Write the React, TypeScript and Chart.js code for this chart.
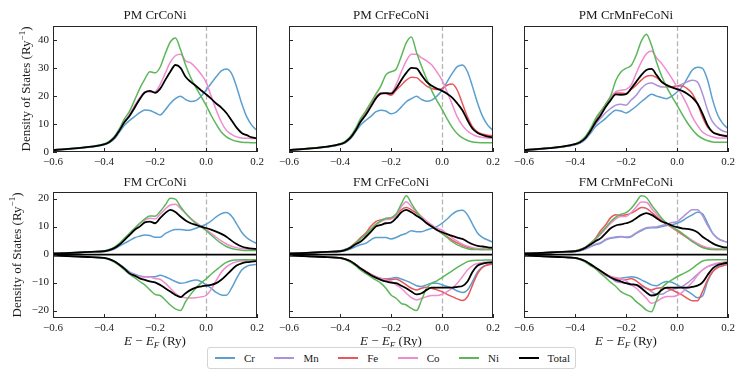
import React, { useEffect, useRef } from "react";
import { Chart, registerables } from "chart.js";
Chart.register(...registerables);

const W = 747;
const H = 374;
const FONT = '"Liberation Serif", "Times New Roman", serif';
const INK = "#1a1a1a";

// ---------------- data ----------------
const energies = [-0.6, -0.55, -0.5, -0.45, -0.4, -0.38, -0.36, -0.34, -0.32, -0.3, -0.28, -0.26, -0.24, -0.22, -0.2, -0.18, -0.16, -0.14, -0.12, -0.1, -0.08, -0.06, -0.04, -0.02, 0, 0.02, 0.04, 0.06, 0.08, 0.1, 0.12, 0.14, 0.16, 0.18, 0.2];
const xTicks = [-0.6, -0.4, -0.2, 0, 0.2];
const yTicksPM = [0, 10, 20, 30, 40];
const yTicksFM = [-20, -10, 0, 10, 20];
const yRangePM = [0, 44.9];
const yRangeFM = [-22.64, 22.36];

const elements = ["Cr", "Mn", "Fe", "Co", "Ni", "Total"];
const colors = ["#5b9fd0", "#ad92da", "#e8575a", "#ef8bcf", "#5db75a", "#000000"];

// PM CrCoNi
const pm1Cr = [0.6, 0.9, 1.3, 1.8, 2.6, 3.3, 4.6, 7.0, 9.5, 11.2, 12.6, 14.0, 15.0, 14.8, 14.0, 13.2, 15.0, 17.3, 19.0, 19.9, 18.7, 18.0, 18.3, 19.8, 22.0, 24.4, 26.8, 28.9, 29.6, 28.0, 23.2, 17.3, 12.5, 9.5, 7.7];
const pm1Co = [0.7, 1.0, 1.4, 1.9, 2.8, 3.5, 5.0, 7.6, 10.8, 13.3, 16.5, 19.3, 21.3, 21.4, 21.5, 24.0, 28.0, 32.0, 34.3, 34.8, 32.5, 31.8, 30.0, 27.8, 25.0, 20.0, 15.0, 10.7, 7.7, 6.3, 5.4, 5.0, 4.9, 4.8, 4.8];
const pm1Ni = [0.8, 1.1, 1.5, 2.0, 2.9, 3.8, 5.4, 8.2, 11.8, 14.5, 18.5, 22.6, 26.0, 28.6, 28.2, 30.2, 35.0, 39.2, 40.6, 36.5, 31.0, 26.5, 23.0, 19.9, 16.7, 13.1, 9.9, 7.1, 5.4, 4.4, 3.8, 3.5, 3.4, 3.3, 3.3];
const pm1Tot = [0.7, 1.0, 1.4, 1.9, 2.7, 3.5, 5.0, 7.6, 10.6, 12.8, 15.8, 18.8, 21.2, 21.8, 21.1, 22.5, 25.6, 28.6, 31.0, 30.0, 26.8, 25.0, 23.6, 22.0, 20.6, 19.0, 17.3, 15.8, 13.9, 11.3, 8.7, 6.8, 6.0, 5.2, 4.9];

// PM CrFeCoNi
const pm2Cr = [0.6, 0.9, 1.3, 1.8, 2.6, 3.3, 4.6, 7.0, 9.5, 11.2, 12.6, 14.3, 14.9, 14.6, 13.6, 14.2, 16.0, 17.9, 19.0, 19.9, 18.7, 18.1, 18.5, 19.9, 22.0, 25.0, 28.0, 30.4, 31.0, 28.6, 23.2, 17.3, 12.5, 9.5, 7.7];
const pm2Fe = [0.7, 1.0, 1.4, 1.9, 2.8, 3.5, 5.0, 7.6, 11.0, 14.0, 17.0, 19.5, 21.0, 20.8, 20.2, 22.0, 23.8, 25.6, 26.6, 26.5, 25.0, 23.5, 22.6, 22.3, 22.6, 23.8, 24.2, 22.0, 17.3, 12.5, 8.9, 7.1, 6.3, 6.0, 5.8];
const pm2Co = [0.7, 1.0, 1.4, 1.9, 2.8, 3.5, 5.0, 7.6, 10.8, 13.5, 16.5, 19.0, 21.0, 21.0, 21.0, 24.0, 28.5, 32.5, 34.8, 34.8, 33.5, 32.5, 31.0, 28.5, 25.6, 21.4, 17.0, 12.5, 9.5, 7.5, 6.3, 5.5, 5.2, 5.0, 4.9];
const pm2Ni = [0.8, 1.1, 1.5, 2.0, 2.9, 3.8, 5.4, 8.2, 11.8, 14.5, 17.5, 20.5, 23.5, 27.5, 28.6, 29.5, 34.0, 39.0, 41.0, 35.5, 30.5, 26.0, 21.8, 18.3, 15.2, 11.8, 8.8, 6.5, 5.0, 4.1, 3.6, 3.4, 3.3, 3.3, 3.3];
const pm2Tot = [0.7, 1.0, 1.4, 1.9, 2.8, 3.5, 5.0, 7.5, 10.7, 13.1, 16.0, 19.0, 20.8, 21.0, 20.8, 22.6, 25.6, 28.2, 30.0, 29.8, 27.4, 25.0, 23.6, 22.6, 21.8, 20.8, 19.4, 17.3, 14.9, 11.3, 8.3, 6.8, 6.0, 5.5, 5.2];

// PM CrMnFeCoNi
const pm3Cr = [0.6, 0.9, 1.3, 1.8, 2.6, 3.2, 4.4, 6.6, 9.0, 10.5, 12.0, 13.7, 14.9, 14.6, 13.9, 14.9, 16.3, 17.9, 19.4, 20.6, 19.9, 19.4, 19.0, 19.9, 21.4, 23.2, 26.2, 29.2, 30.2, 29.8, 25.6, 18.5, 13.1, 10.1, 8.3];
const pm3Mn = [0.6, 0.9, 1.3, 1.8, 2.7, 3.3, 4.7, 7.0, 9.8, 12.0, 14.0, 15.5, 16.7, 17.0, 16.7, 18.5, 20.2, 22.6, 24.2, 24.6, 23.8, 23.2, 23.2, 23.2, 23.5, 24.2, 25.0, 25.6, 25.0, 20.8, 14.9, 10.7, 8.7, 7.5, 7.0];
const pm3Fe = [0.7, 1.0, 1.4, 1.9, 2.8, 3.5, 5.0, 7.6, 11.0, 14.0, 17.0, 19.5, 21.0, 21.0, 20.8, 22.3, 23.8, 25.6, 27.0, 27.3, 26.5, 25.0, 24.0, 23.2, 23.5, 23.5, 22.6, 20.8, 17.3, 12.5, 8.9, 7.1, 6.3, 6.0, 5.8];
const pm3Co = [0.7, 1.0, 1.4, 1.9, 2.8, 3.5, 5.0, 7.6, 10.8, 13.5, 16.5, 19.5, 21.5, 22.0, 22.3, 23.8, 28.0, 32.0, 35.0, 36.0, 33.5, 31.5, 29.0, 26.2, 23.2, 20.2, 16.7, 12.5, 9.5, 7.1, 6.0, 5.4, 5.0, 5.0, 5.0];
const pm3Ni = [0.8, 1.1, 1.5, 2.0, 2.9, 3.8, 5.4, 8.2, 11.8, 14.5, 17.0, 20.0, 25.5, 28.5, 29.8, 30.8, 34.5, 39.5, 42.0, 38.0, 32.0, 27.0, 23.0, 19.7, 16.7, 13.5, 10.5, 8.0, 6.0, 4.8, 4.0, 3.6, 3.5, 3.5, 3.5];
const pm3Tot = [0.7, 1.0, 1.4, 1.9, 2.8, 3.5, 4.9, 7.4, 10.5, 13.0, 16.0, 18.5, 20.5, 20.4, 20.6, 22.6, 25.0, 27.4, 29.2, 29.6, 27.4, 25.0, 23.8, 23.0, 22.4, 21.8, 20.8, 19.4, 17.3, 13.7, 9.5, 7.1, 6.3, 5.8, 5.6];

// FM CrCoNi (spin up / spin down)
const fm1CrUp = [0.35, 0.5, 0.7, 0.9, 1.1, 1.4, 2.0, 3.0, 4.0, 5.0, 6.0, 6.6, 7.0, 6.8, 6.2, 6.2, 7.5, 8.4, 9.0, 9.0, 8.7, 8.8, 9.4, 10.1, 10.8, 12.0, 13.5, 14.6, 15.0, 13.8, 11.0, 8.0, 6.0, 4.8, 4.0];
const fm1CoUp = [0.4, 0.55, 0.75, 1.0, 1.3, 1.7, 2.5, 3.8, 5.5, 7.2, 9.0, 11.0, 12.3, 13.0, 12.7, 14.4, 16.3, 17.7, 18.0, 16.5, 14.8, 13.0, 11.5, 10.2, 9.0, 7.6, 6.2, 4.9, 3.8, 3.0, 2.5, 2.2, 2.0, 2.0, 2.0];
const fm1NiUp = [0.4, 0.55, 0.75, 1.0, 1.3, 1.8, 2.6, 4.0, 5.8, 7.6, 9.4, 11.2, 12.8, 13.8, 13.7, 15.4, 17.7, 20.1, 19.8, 17.1, 14.8, 12.8, 11.2, 10.0, 8.6, 7.0, 5.4, 4.0, 2.9, 2.2, 1.8, 1.6, 1.5, 1.5, 1.5];
const fm1TotUp = [0.4, 0.55, 0.75, 1.0, 1.2, 1.6, 2.3, 3.5, 5.2, 7.0, 8.8, 10.0, 11.5, 11.8, 11.2, 13.0, 14.8, 16.0, 15.2, 13.6, 12.2, 11.2, 10.6, 10.0, 9.5, 8.9, 8.2, 7.4, 6.4, 5.0, 3.8, 2.9, 2.4, 2.1, 2.0];
const fm1CrDn = [-0.35, -0.5, -0.7, -0.9, -1.2, -1.6, -2.3, -3.4, -4.8, -6.2, -7.0, -7.6, -7.9, -7.9, -7.9, -7.4, -7.9, -8.7, -9.6, -10.2, -10.0, -9.4, -9.1, -9.6, -10.8, -12.0, -13.5, -14.4, -14.5, -12.0, -8.5, -5.5, -4.2, -3.7, -3.5];
const fm1CoDn = [-0.35, -0.5, -0.7, -0.9, -1.2, -1.6, -2.4, -3.6, -5.0, -6.5, -7.3, -7.9, -8.0, -8.0, -8.5, -8.8, -10.2, -12.0, -13.8, -15.0, -15.4, -15.5, -15.4, -15.1, -14.6, -12.5, -9.3, -6.3, -4.4, -3.2, -2.6, -2.3, -2.2, -2.1, -2.0];
const fm1NiDn = [-0.35, -0.5, -0.7, -0.9, -1.3, -1.8, -2.7, -3.9, -5.5, -7.0, -8.2, -9.6, -10.8, -12.6, -14.2, -14.6, -16.2, -18.0, -19.4, -20.0, -16.8, -14.2, -12.0, -10.2, -8.7, -7.0, -5.5, -4.0, -2.8, -2.1, -1.9, -1.8, -1.8, -1.8, -1.8];
const fm1TotDn = [-0.35, -0.5, -0.7, -0.9, -1.2, -1.6, -2.4, -3.6, -5.0, -6.7, -7.5, -8.5, -9.0, -9.6, -9.9, -10.8, -12.0, -13.2, -14.4, -15.2, -13.8, -12.6, -11.8, -11.4, -11.1, -10.8, -10.2, -9.0, -7.3, -5.5, -3.9, -3.1, -2.7, -2.5, -2.3];

// FM CrFeCoNi
const fm2CrUp = [0.35, 0.5, 0.7, 0.9, 1.1, 1.4, 2.0, 2.8, 3.5, 4.0, 5.2, 6.1, 6.1, 6.1, 5.6, 6.1, 7.0, 7.6, 8.5, 8.2, 8.2, 8.8, 9.4, 10.0, 11.2, 12.7, 14.4, 15.6, 15.8, 14.2, 10.8, 7.6, 6.1, 5.2, 4.4];
const fm2FeUp = [0.4, 0.55, 0.75, 1.0, 1.3, 1.8, 2.7, 4.2, 6.0, 7.6, 10.0, 11.8, 12.4, 12.7, 13.0, 14.2, 16.0, 16.8, 16.0, 14.8, 13.0, 11.4, 10.0, 8.8, 7.6, 6.4, 5.2, 4.2, 3.3, 2.6, 2.1, 1.9, 1.8, 1.8, 1.8];
const fm2CoUp = [0.4, 0.55, 0.75, 1.0, 1.3, 1.7, 2.5, 3.8, 5.5, 7.0, 8.8, 10.5, 11.8, 12.5, 12.7, 14.0, 17.1, 18.9, 17.1, 15.4, 13.6, 12.0, 10.6, 9.4, 8.8, 7.4, 6.0, 4.8, 3.7, 3.0, 2.5, 2.2, 2.1, 2.0, 2.0];
const fm2NiUp = [0.4, 0.55, 0.75, 1.0, 1.3, 1.8, 2.6, 4.0, 5.6, 7.2, 9.0, 10.8, 12.0, 13.0, 13.2, 14.5, 18.0, 21.0, 18.3, 15.4, 13.0, 11.2, 10.0, 8.8, 7.6, 6.1, 4.6, 3.5, 2.7, 2.1, 1.8, 1.8, 1.8, 1.8, 1.8];
const fm2TotUp = [0.4, 0.55, 0.75, 1.0, 1.2, 1.6, 2.4, 3.6, 4.6, 6.2, 8.0, 10.0, 10.6, 11.2, 11.4, 13.0, 15.1, 16.0, 15.1, 13.9, 12.7, 11.2, 10.0, 8.8, 8.0, 7.3, 6.7, 6.1, 5.6, 4.6, 3.7, 3.1, 2.9, 2.6, 2.4];
const fm2CrDn = [-0.35, -0.5, -0.7, -0.9, -1.2, -1.6, -2.3, -3.4, -4.8, -6.0, -7.0, -7.9, -8.5, -8.7, -8.5, -8.2, -8.7, -9.4, -10.2, -11.1, -11.4, -10.8, -10.2, -10.2, -10.8, -11.4, -12.0, -13.0, -13.5, -12.6, -9.6, -6.1, -4.3, -3.5, -3.1];
const fm2FeDn = [-0.35, -0.5, -0.7, -0.9, -1.2, -1.6, -2.3, -3.4, -4.8, -5.8, -7.0, -7.9, -8.5, -8.7, -9.0, -8.7, -9.6, -10.8, -12.0, -12.6, -12.0, -11.7, -12.0, -12.6, -13.2, -14.2, -15.0, -15.8, -16.4, -15.0, -10.8, -6.7, -4.5, -3.7, -3.3];
const fm2CoDn = [-0.35, -0.5, -0.7, -0.9, -1.2, -1.6, -2.4, -3.6, -5.0, -6.3, -7.3, -8.0, -8.5, -9.0, -9.6, -10.8, -12.0, -13.8, -15.4, -16.2, -15.6, -15.0, -14.6, -14.6, -14.2, -13.2, -12.0, -10.2, -7.9, -5.5, -3.9, -3.2, -2.8, -2.6, -2.5];
const fm2NiDn = [-0.35, -0.5, -0.7, -0.9, -1.3, -1.8, -2.7, -3.9, -5.5, -6.7, -7.9, -9.0, -10.2, -12.0, -14.4, -15.6, -17.4, -18.0, -19.2, -20.0, -16.2, -12.0, -10.2, -9.4, -8.2, -7.0, -5.8, -4.6, -3.5, -2.5, -2.1, -2.0, -2.0, -1.9, -1.9];
const fm2TotDn = [-0.35, -0.5, -0.7, -0.9, -1.2, -1.6, -2.3, -3.5, -4.9, -6.1, -7.3, -8.2, -9.0, -9.6, -10.0, -10.2, -11.1, -12.0, -13.2, -14.2, -13.8, -12.6, -11.8, -11.8, -11.8, -11.8, -11.8, -11.5, -11.2, -9.6, -6.1, -3.9, -3.2, -2.9, -2.7];

// FM CrMnFeCoNi
const fm3CrUp = [0.35, 0.5, 0.7, 0.9, 1.1, 1.4, 2.0, 2.8, 3.5, 4.0, 5.2, 5.8, 6.1, 6.4, 6.1, 6.4, 7.6, 8.5, 9.4, 9.6, 9.6, 10.0, 10.4, 10.6, 11.2, 12.0, 13.2, 14.2, 15.1, 14.6, 11.2, 7.6, 5.8, 4.9, 4.4];
const fm3MnUp = [0.35, 0.5, 0.7, 0.9, 1.1, 1.4, 2.0, 2.9, 3.7, 4.3, 5.4, 6.0, 6.3, 6.5, 6.3, 6.6, 7.8, 8.8, 9.6, 9.8, 9.9, 10.4, 10.8, 11.5, 11.8, 13.2, 14.8, 16.0, 16.0, 13.9, 10.4, 7.6, 5.8, 4.9, 4.4];
const fm3FeUp = [0.4, 0.55, 0.75, 1.0, 1.3, 1.8, 2.6, 4.0, 5.8, 8.5, 10.6, 13.2, 14.2, 13.9, 14.2, 14.8, 15.8, 16.8, 16.5, 15.1, 13.6, 12.0, 10.8, 9.6, 8.5, 7.2, 6.0, 4.8, 3.7, 2.8, 2.2, 1.9, 1.8, 1.8, 1.8];
const fm3CoUp = [0.4, 0.55, 0.75, 1.0, 1.3, 1.7, 2.5, 3.8, 5.5, 7.2, 9.2, 11.2, 12.8, 13.6, 13.6, 15.0, 17.0, 18.8, 18.7, 16.5, 14.5, 12.6, 11.0, 9.8, 8.8, 7.6, 6.3, 5.1, 4.0, 3.1, 2.5, 2.2, 2.0, 2.0, 2.0];
const fm3NiUp = [0.4, 0.55, 0.75, 1.0, 1.3, 1.8, 2.6, 4.0, 5.5, 7.6, 9.6, 11.8, 13.4, 14.4, 15.0, 16.5, 18.8, 21.0, 20.4, 17.7, 15.4, 13.0, 11.2, 10.0, 8.8, 7.6, 6.1, 4.6, 3.5, 2.5, 2.0, 1.8, 1.8, 1.8, 1.8];
const fm3TotUp = [0.4, 0.55, 0.75, 1.0, 1.2, 1.6, 2.4, 3.6, 4.8, 5.8, 7.6, 9.4, 10.4, 10.8, 11.2, 11.8, 13.0, 14.2, 14.8, 14.2, 13.0, 11.8, 11.2, 10.4, 9.8, 9.4, 9.2, 8.8, 8.0, 6.4, 5.2, 4.0, 3.2, 2.7, 2.5];
const fm3CrDn = [-0.35, -0.5, -0.7, -0.9, -1.2, -1.6, -2.3, -3.4, -4.8, -6.0, -7.0, -7.9, -8.5, -8.4, -8.2, -7.9, -8.2, -9.0, -9.9, -10.8, -11.1, -10.2, -9.6, -9.9, -10.8, -11.8, -13.0, -14.2, -15.4, -14.8, -9.6, -6.1, -4.3, -3.5, -3.1];
const fm3MnDn = [-0.35, -0.5, -0.7, -0.9, -1.2, -1.6, -2.4, -3.6, -5.0, -6.4, -7.4, -8.2, -9.6, -10.0, -10.2, -10.8, -10.8, -11.4, -12.0, -13.2, -14.2, -14.2, -13.2, -12.5, -12.0, -11.4, -10.2, -8.7, -7.0, -5.5, -4.3, -3.7, -3.3, -3.0, -2.8];
const fm3FeDn = [-0.35, -0.5, -0.7, -0.9, -1.2, -1.6, -2.3, -3.4, -4.8, -5.8, -7.0, -7.9, -8.5, -8.8, -9.0, -8.5, -9.4, -10.8, -12.0, -12.6, -12.0, -11.8, -12.0, -12.6, -13.5, -14.4, -15.6, -16.5, -16.5, -13.2, -9.0, -6.1, -4.6, -4.0, -3.5];
const fm3CoDn = [-0.35, -0.5, -0.7, -0.9, -1.2, -1.6, -2.4, -3.6, -5.0, -6.3, -7.3, -7.9, -8.2, -8.7, -9.4, -10.8, -12.0, -13.8, -15.6, -17.4, -16.8, -15.6, -15.0, -15.0, -14.6, -13.5, -11.8, -9.9, -7.5, -5.5, -4.3, -3.5, -3.0, -2.7, -2.5];
const fm3NiDn = [-0.35, -0.5, -0.7, -0.9, -1.3, -1.8, -2.7, -3.9, -4.9, -6.7, -8.2, -9.9, -11.4, -13.2, -14.2, -15.0, -16.8, -18.2, -19.8, -20.4, -16.2, -12.0, -10.2, -9.0, -7.9, -7.0, -6.1, -4.9, -3.5, -2.3, -1.9, -1.8, -1.8, -1.8, -1.8];
const fm3TotDn = [-0.35, -0.5, -0.7, -0.9, -1.2, -1.6, -2.3, -3.4, -4.6, -5.8, -7.0, -8.2, -9.0, -9.6, -10.2, -10.6, -10.8, -12.0, -13.5, -14.6, -14.2, -12.6, -11.8, -11.8, -11.8, -11.8, -11.8, -11.5, -11.1, -9.9, -7.3, -4.9, -3.7, -3.2, -2.9];

type PanelDef = {
  title: string;
  row: number;
  col: number;
  series: Record<string, number[][]>;
};

const panels: PanelDef[] = [
  { title: "PM CrCoNi", row: 0, col: 0, series: { Cr: [pm1Cr], Co: [pm1Co], Ni: [pm1Ni], Total: [pm1Tot] } },
  { title: "PM CrFeCoNi", row: 0, col: 1, series: { Cr: [pm2Cr], Fe: [pm2Fe], Co: [pm2Co], Ni: [pm2Ni], Total: [pm2Tot] } },
  { title: "PM CrMnFeCoNi", row: 0, col: 2, series: { Cr: [pm3Cr], Mn: [pm3Mn], Fe: [pm3Fe], Co: [pm3Co], Ni: [pm3Ni], Total: [pm3Tot] } },
  { title: "FM CrCoNi", row: 1, col: 0, series: { Cr: [fm1CrUp, fm1CrDn], Co: [fm1CoUp, fm1CoDn], Ni: [fm1NiUp, fm1NiDn], Total: [fm1TotUp, fm1TotDn] } },
  { title: "FM CrFeCoNi", row: 1, col: 1, series: { Cr: [fm2CrUp, fm2CrDn], Fe: [fm2FeUp, fm2FeDn], Co: [fm2CoUp, fm2CoDn], Ni: [fm2NiUp, fm2NiDn], Total: [fm2TotUp, fm2TotDn] } },
  { title: "FM CrMnFeCoNi", row: 1, col: 2, series: { Cr: [fm3CrUp, fm3CrDn], Mn: [fm3MnUp, fm3MnDn], Fe: [fm3FeUp, fm3FeDn], Co: [fm3CoUp, fm3CoDn], Ni: [fm3NiUp, fm3NiDn], Total: [fm3TotUp, fm3TotDn] } },
];

// ---------------- layout ----------------
const colLeft = [53, 289, 524];
const colRight = [257, 493, 728];
const rowTop = [26, 192];
const rowBottom = [152, 318];
const Y_W = 40;
const X_H = 20;

const fmtNum = (v: number, digits: number) => (v < 0 ? "\u2212" : "") + Math.abs(v).toFixed(digits);

function drawPieces(ctx: CanvasRenderingContext2D, pieces: { t: string; font: string; dy: number }[], cx: number, cy: number) {
  let total = 0;
  const widths = pieces.map((p) => {
    ctx.font = p.font;
    const w = ctx.measureText(p.t).width;
    total += w;
    return w;
  });
  let x = cx - total / 2;
  ctx.textAlign = "left";
  ctx.textBaseline = "middle";
  pieces.forEach((p, i) => {
    ctx.font = p.font;
    ctx.fillText(p.t, x, cy + p.dy);
    x += widths[i];
  });
}

function makeDecor(p: PanelDef) {
  return {
    id: "decor",
    beforeDatasetsDraw(chart: any) {
      const { ctx, chartArea: a, scales } = chart;
      const x0 = Math.round(scales.x.getPixelForValue(0)) + 0.5;
      ctx.save();
      ctx.strokeStyle = "#b5b5b5";
      ctx.lineWidth = 1.3;
      ctx.setLineDash([5, 2.6]);
      ctx.beginPath();
      ctx.moveTo(x0, a.top);
      ctx.lineTo(x0, a.bottom);
      ctx.stroke();
      ctx.restore();
    },
    afterDatasetsDraw(chart: any) {
      const { ctx, chartArea: a, scales } = chart;
      const xs = scales.x;
      const ys = scales.y;
      ctx.save();
      if (p.row === 1) {
        const y0 = ys.getPixelForValue(0);
        ctx.strokeStyle = "#000";
        ctx.lineWidth = 1.6;
        ctx.beginPath();
        ctx.moveTo(a.left, y0);
        ctx.lineTo(a.right, y0);
        ctx.stroke();
      }
      // spines
      ctx.strokeStyle = "#262626";
      ctx.lineWidth = 1;
      ctx.strokeRect(a.left + 0.5, a.top + 0.5, a.right - a.left - 1, a.bottom - a.top - 1);
      // inward ticks
      ctx.beginPath();
      xs.ticks.forEach((t: any) => {
        const px = Math.round(xs.getPixelForValue(t.value)) + 0.5;
        ctx.moveTo(px, a.bottom);
        ctx.lineTo(px, a.bottom - 4);
      });
      ys.ticks.forEach((t: any) => {
        const py = Math.round(ys.getPixelForValue(t.value)) + 0.5;
        ctx.moveTo(a.left, py);
        ctx.lineTo(a.left + 4, py);
      });
      ctx.stroke();
      // title
      ctx.fillStyle = INK;
      ctx.font = `13px ${FONT}`;
      ctx.textAlign = "center";
      ctx.textBaseline = "middle";
      ctx.fillText(p.title, (a.left + a.right) / 2, a.top - (p.row === 0 ? 10 : 9));
      // x label
      if (p.row === 1) {
        const big = `13px ${FONT}`;
        const it = `italic 13px ${FONT}`;
        const sub = `italic 9px ${FONT}`;
        drawPieces(
          ctx,
          [
            { t: "E", font: it, dy: 0 },
            { t: " \u2212 ", font: big, dy: 0 },
            { t: "E", font: it, dy: 0 },
            { t: "F", font: sub, dy: 3.5 },
            { t: " (Ry)", font: big, dy: 0 },
          ],
          (a.left + a.right) / 2,
          a.bottom + 24
        );
      }
      // y label
      if (p.col === 0) {
        ctx.save();
        ctx.translate(p.row === 0 ? 27 : 17.5, (a.top + a.bottom) / 2);
        ctx.rotate(-Math.PI / 2);
        drawPieces(
          ctx,
          [
            { t: "Density of States (Ry", font: `13px ${FONT}`, dy: 0 },
            { t: "\u22121", font: `9px ${FONT}`, dy: -4.5 },
            { t: ")", font: `13px ${FONT}`, dy: 0 },
          ],
          0,
          0
        );
        ctx.restore();
      }
      ctx.restore();
    },
  };
}

function PanelChart({ p }: { p: PanelDef }) {
  const ref = useRef<HTMLCanvasElement | null>(null);
  useEffect(() => {
    const L = colLeft[p.col];
    const R = colRight[p.col];
    const T = rowTop[p.row];
    const B = rowBottom[p.row];
    const yRange = p.row === 0 ? yRangePM : yRangeFM;
    const yTicks = p.row === 0 ? yTicksPM : yTicksFM;
    const drawOrder = ["Total", "Ni", "Co", "Fe", "Mn", "Cr"];
    const datasets: any[] = [];
    drawOrder.forEach((el) => {
      const arrs = p.series[el];
      if (!arrs) return;
      const color = colors[elements.indexOf(el)];
      arrs.forEach((arr) => {
        datasets.push({
          label: el,
          data: energies.map((x, i) => ({ x, y: arr[i] })),
          borderColor: color,
          backgroundColor: color,
          borderWidth: el === "Total" ? 1.8 : 1.5,
          pointRadius: 0,
          fill: false,
          cubicInterpolationMode: "monotone",
        });
      });
    });
    const tickFont = { family: FONT, size: 11 };
    const chart = new Chart(ref.current as HTMLCanvasElement, {
      type: "line",
      data: { datasets },
      options: {
        responsive: false,
        maintainAspectRatio: false,
        animation: false,
        devicePixelRatio: 1,
        events: [],
        layout: { padding: { left: L - Y_W, right: W - R, top: T, bottom: H - B - X_H } },
        plugins: { legend: { display: false }, tooltip: { enabled: false }, title: { display: false } },
        scales: {
          x: {
            type: "linear",
            min: -0.6,
            max: 0.2,
            grid: { display: false, drawTicks: false },
            border: { display: false },
            ticks: {
              font: tickFont,
              color: INK,
              padding: 4,
              maxRotation: 0,
              autoSkip: false,
              callback: (v: any) => fmtNum(Number(v), 1),
            },
            afterBuildTicks: (s: any) => {
              s.ticks = xTicks.map((v) => ({ value: v }));
            },
            afterFit: (s: any) => {
              s.height = X_H;
            },
          },
          y: {
            type: "linear",
            min: yRange[0],
            max: yRange[1],
            grid: { display: false, drawTicks: false },
            border: { display: false },
            ticks: {
              display: p.col === 0,
              font: tickFont,
              color: INK,
              padding: 4,
              autoSkip: false,
              callback: (v: any) => fmtNum(Number(v), 0),
            },
            afterBuildTicks: (s: any) => {
              s.ticks = yTicks.map((v) => ({ value: v }));
            },
            afterFit: (s: any) => {
              s.width = Y_W;
            },
          },
        },
      } as any,
      plugins: [makeDecor(p)],
    });
    return () => chart.destroy();
  }, [p]);
  return (
    <canvas
      ref={ref}
      width={W}
      height={H}
      style={{ position: "absolute", left: 0, top: 0, width: W, height: H }}
    />
  );
}

function Legend() {
  return (
    <div
      style={{
        position: "absolute",
        left: 207,
        top: 347,
        width: 369,
        height: 22,
        boxSizing: "border-box",
        border: "1px solid #d4d4d4",
        borderRadius: 3,
        display: "flex",
        alignItems: "center",
        justifyContent: "space-between",
        padding: "0 5px 0 7px",
        fontFamily: FONT,
        fontSize: 11,
        color: INK,
        background: "#fff",
      }}
    >
      {elements.map((el, i) => (
        <div key={el} style={{ display: "flex", alignItems: "center" }}>
          <span
            style={{
              display: "inline-block",
              width: 20,
              height: el === "Total" ? 2 : 1.6,
              background: colors[i],
              marginRight: 9,
            }}
          />
          <span>{el}</span>
        </div>
      ))}
    </div>
  );
}

export default function App() {
  return (
    <div style={{ position: "fixed", left: 0, top: 0, width: W, height: H, background: "#fff", overflow: "hidden" }}>
      {panels.map((p) => (
        <PanelChart key={p.title} p={p} />
      ))}
      <Legend />
    </div>
  );
}
